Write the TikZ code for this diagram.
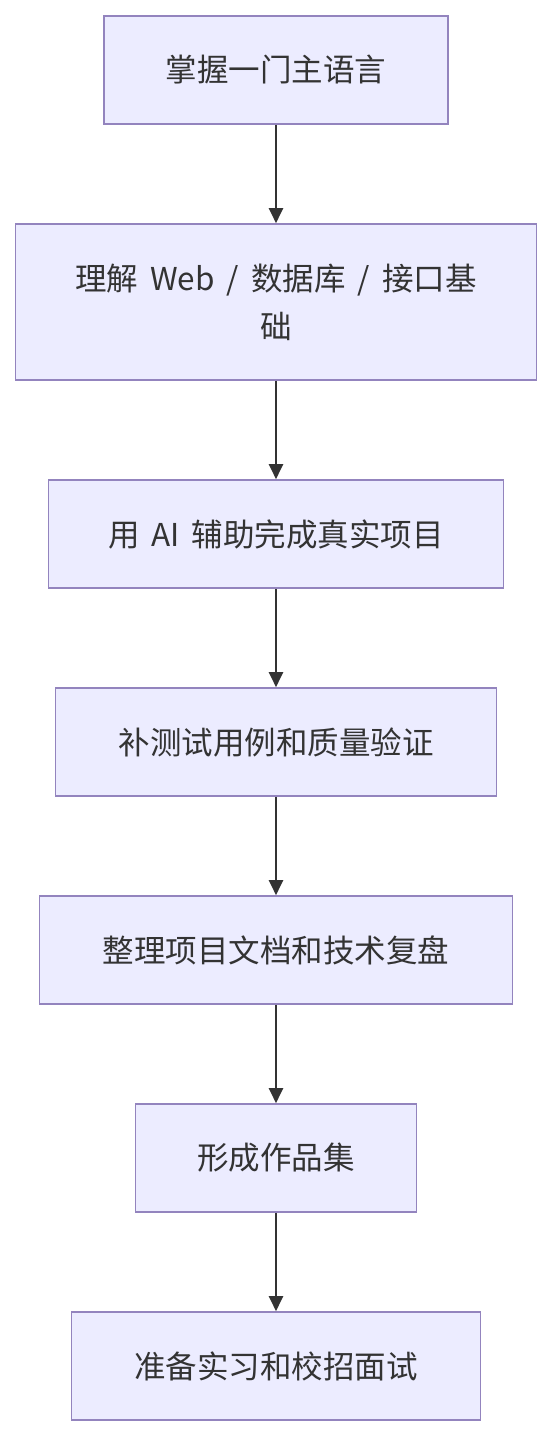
\documentclass[tikz,border=0pt]{standalone}
\usepackage{fontspec}
\newfontfamily\cjk{Noto Sans CJK SC}
\usetikzlibrary{arrows.meta}
\definecolor{boxfill}{RGB}{236,236,255}
\definecolor{boxline}{RGB}{147,132,190}
\definecolor{arrowgray}{RGB}{51,51,51}
\newcommand{\wgap}{\hspace{12pt}}

\begin{document}
\begin{tikzpicture}[x=1pt,y=-1pt,>={Triangle[length=15pt,width=14pt]},
  stepbox/.style={draw=boxline,fill=boxfill,line width=1.6pt,minimum height=108pt,
    inner sep=0pt,align=center,text=arrowgray,font=\cjk\fontsize{31.5}{48}\selectfont},
  flow/.style={->,draw=arrowgray,line width=2pt}]
  \useasboundingbox (0,0) rectangle (552,1436);
  % boxes, top to bottom
  \node[stepbox,minimum width=344pt] (lang) at (276,70) {掌握一门主语言};
  \node[stepbox,minimum width=521pt,minimum height=156pt] (base) at (276,302)
    {理解\wgap Web\wgap/\wgap 数据库\wgap/\wgap 接口基\\础};
  \node[stepbox,minimum width=455pt] (proj) at (276,534) {用\wgap AI\wgap 辅助完成真实项目};
  \node[stepbox,minimum width=441pt] (test) at (276,742) {补测试用例和质量验证};
  \node[stepbox,minimum width=473pt] (docs) at (276,950) {整理项目文档和技术复盘};
  \node[stepbox,minimum width=281pt] (port) at (276,1158) {形成作品集};
  \node[stepbox,minimum width=409pt] (intv) at (276,1366) {准备实习和校招面试};
  % arrows
  \draw[flow] (lang) -- (base);
  \draw[flow] (base) -- (proj);
  \draw[flow] (proj) -- (test);
  \draw[flow] (test) -- (docs);
  \draw[flow] (docs) -- (port);
  \draw[flow] (port) -- (intv);
\end{tikzpicture}
\end{document}
